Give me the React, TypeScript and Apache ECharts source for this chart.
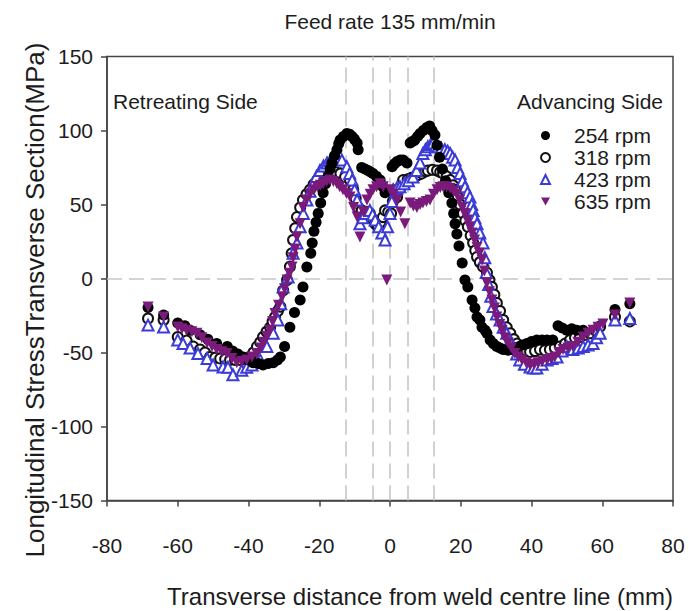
import React, { useEffect, useRef } from "react";
import * as echarts from "echarts";

const seriesNames = ["254 rpm", "318 rpm", "423 rpm", "635 rpm"];
const xTicks = { min: -80, max: 80, interval: 20 };
const yTicks = { min: -150, max: 150, interval: 50 };
const refLinesX = [-12.5, -5, 0, 5, 12.5];
const refLineY = 0;

const x254 = [-68.4, -64, -60, -58, -56.5, -53.7, -51.5, -49, -46, -44.5, -43, -41.5, -40, -38.7, -37.2, -35.9, -34.4, -33, -31.8, -31, -29.8, -28.3, -27, -25.4, -24.6, -23.5, -22.4, -22, -21.5, -20.9, -20.3, -19.6, -18.9, -18.2, -17.5, -16.9, -16.4, -15.7, -15, -14.5, -14.1, -13.2, -12.2, -11.4, -10.7, -10, -9.3, -9, -8, -7.1, -6.2, -5.5, -4.8, -3.8, -2.8, -2, -1.4, 0.6, 1.3, 2, 2.9, 3.7, 4.8, 5.7, 6.3, 7, 7.8, 8.5, 9.4, 10.4, 11.2, 11.9, 12.7, 13.3, 14, 14.8, 15.7, 16.6, 17.5, 18, 18.4, 18.9, 19.5, 20.4, 21.2, 22, 23.2, 24, 24.6, 25.4, 26, 26.9, 27.4, 28.3, 29.2, 30.2, 31.1, 32, 33.4, 34.8, 36, 37.5, 38.7, 40, 41.5, 43, 44.4, 46, 47.5, 48.7, 50, 51.4, 52.8, 54.6, 63.6, 67.8];
const y254 = [-19.6, -24.6, -30, -32, -35, -38, -41, -44, -46, -49, -51, -53, -55, -57, -57.5, -58.5, -57.5, -57, -55, -53, -46, -33, -23, -14.5, -5.7, 7.8, 17, 24, 32, 38, 44, 51, 58, 64, 69, 74, 78, 83, 87, 91, 93.5, 96, 98, 97.5, 96, 94, 91.5, 87, 75, 74, 73, 72, 71, 69, 66.5, 62, 58, 75.5, 77.5, 79, 80, 80, 78, 91.5, 92.5, 93.5, 96, 98, 100, 102, 103, 100, 97, 90, 82, 74, 66, 58, 51, 44, 37, 30, 22, 10.5, -1, -5.7, -14.5, -20, -26, -28, -33, -35, -37, -41.5, -44, -46, -47, -48, -48.5, -48, -46.5, -45, -44, -42.5, -41.5, -41.5, -41.5, -41.5, -32, -33.5, -35, -34, -35, -35, -21, -17];

const x318 = [-68.4, -64, -60, -57.5, -55.6, -53.7, -52.3, -50.9, -49.4, -48, -46.6, -45.2, -43.8, -42.4, -41, -39.6, -38.6, -37.6, -36.7, -35.9, -34.9, -33.9, -33.2, -32.5, -31.7, -31, -30.2, -29.1, -28.3, -27.8, -27.4, -26.8, -26.3, -25.4, -24.6, -23.6, -22.6, -21.6, -20.6, -19.7, -18.9, -17.9, -17, -15.5, -14, -12.7, -11.3, -10.4, -9.7, -9, -8, -6.8, -5.7, -4.9, -4.2, -3.4, -2.7, -2, -1.4, -0.5, 0.3, 0.8, 2, 2.9, 3.7, 5, 6, 7, 8, 9, 10, 10.7, 12, 13.3, 14.2, 15, 16, 17, 17.8, 18.4, 19.2, 19.8, 20.6, 21.3, 22, 22.8, 23.5, 24.1, 24.6, 25.4, 26.3, 27.4, 28.1, 28.8, 29.5, 30.2, 31.1, 32, 33, 34, 35, 35.9, 36.8, 37.6, 38.6, 39.6, 41, 42.4, 43.8, 45.2, 46.6, 48, 49.5, 50.9, 52.3, 53.7, 55.1, 56.5, 58, 59.4, 63.6, 67.8];
const y318 = [-27, -28, -39.5, -42, -46, -48, -50, -53, -53.5, -54, -54.5, -55, -55, -55, -54.5, -53, -50, -46, -43, -39.5, -36, -33, -29, -26, -22, -19, -8, -1, 8, 17, 26, 34, 41.5, 48, 53, 57, 60, 63.5, 66.5, 69, 71, 72, 73, 72, 71, 68.6, 66.5, 60, 54, 48, 46, 45, 44, 40, 37, 35, 38, 41.5, 46, 45, 44, 52, 55, 61, 66.5, 67, 68, 68.6, 70, 71, 72.5, 73, 73.5, 73, 72, 71, 69, 66.5, 63, 60, 55, 50, 44, 39, 35, 29, 24, 19, 14.5, 11, 8, 4, -1, -5.7, -11, -16.6, -22, -28, -33, -37, -41, -44, -46, -48, -49, -49.6, -49, -48, -48.5, -48, -47, -46, -44, -41.5, -40, -39.5, -38, -37, -35, -32.4, -26, -29];

const x423 = [-68.4, -64, -60, -58.5, -56.5, -54.3, -51.7, -50, -47.2, -45.8, -44.4, -41.9, -40.5, -39, -36.7, -34.8, -33, -31.7, -30.9, -30.2, -28.8, -27.4, -26.3, -25.4, -24.5, -23.5, -22.6, -21.7, -20.8, -19.8, -18.8, -17.8, -16.9, -16.1, -14.8, -13.6, -12.2, -11.4, -10.7, -10, -9.3, -8.5, -7.7, -7, -5.7, -4.9, -4.2, -3.2, -2.3, -1.4, -0.7, 0, 0.5, 0.9, 1.9, 2.8, 4, 5.2, 6.5, 7.5, 8.5, 9.3, 10, 10.7, 11.5, 12.2, 13, 13.6, 14.5, 15.5, 16.3, 17, 17.7, 18.4, 19.1, 19.8, 20.5, 21.2, 21.9, 22.6, 23.1, 23.5, 24, 24.6, 25.4, 26.3, 26.8, 27.2, 27.9, 28.5, 29.1, 30.1, 31.1, 32, 33, 33.9, 34.8, 35.8, 36.7, 38, 39.6, 40.5, 41.5, 43, 44.4, 45.8, 47.2, 48.6, 50, 51.7, 53.2, 54.6, 56, 57.4, 58.4, 59.4, 63.6, 67.8];
const y423 = [-31.5, -32.8, -41.5, -44, -47, -50.7, -54, -58.5, -59.8, -60, -65, -62, -60, -58.5, -55, -46, -37, -28, -17, -5.7, 1, 17, 24, 35, 44, 53, 59, 64, 69, 73, 76, 78, 79.5, 80, 80.5, 80, 75.5, 71, 66.5, 60, 53, 37, 41, 44, 46, 43, 39.5, 35, 30.7, 26, 35, 44, 52, 60, 61, 62, 64, 66, 68.6, 73, 78, 84.5, 87, 89, 90.5, 91.5, 90, 89, 88, 87, 86, 84.5, 82, 80, 75, 71, 66, 62, 58, 55, 50, 46, 41, 37, 30.7, 24, 14, 4, -4, -12, -19, -24, -28, -33, -37, -42, -46, -51, -55, -58, -59.8, -60.5, -60.5, -58, -55, -54, -53, -49, -46, -48, -47, -46, -45, -44, -40, -37, -28, -27];

const x635 = [-68.4, -64, -60, -58.8, -57.5, -56, -54.6, -53.2, -51.7, -50.3, -49, -47.5, -46.1, -44.7, -43.3, -41.9, -40.5, -39, -37.6, -36.6, -35.7, -34.8, -33.9, -33.2, -32.5, -31.5, -30.5, -29.8, -29.1, -28.4, -27.7, -27.4, -26.8, -26.3, -25.4, -24.6, -23.6, -22.6, -21.6, -20.6, -19.7, -18.9, -17.9, -17, -16, -15, -14.2, -13.3, -12.3, -11.3, -10.3, -9.3, -8.5, -7.5, -6.5, -5.6, -4.8, -3.8, -2.8, -1.9, -0.9, 0, 1, 2, 3, 4.2, 5.7, 6.6, 7.6, 8.5, 9.3, 10.3, 11.3, 12.3, 13.3, 14.2, 15, 16, 17, 18, 18.9, 19.7, 20.4, 21.1, 21.8, 22.5, 23.2, 23.9, 24.6, 25.3, 26, 26.7, 27.4, 28.1, 28.8, 29.5, 30.2, 31, 31.7, 32.5, 33.4, 34.3, 35.3, 36.3, 37.3, 38.5, 39.6, 40.7, 41.8, 43, 44.4, 45.5, 46.6, 47.8, 48.9, 50.3, 51.7, 53.1, 54.6, 56, 57.4, 58.8, 60.2, 63.6, 67.8];
const y635 = [-19.3, -26, -32.8, -34, -35, -36, -37, -40, -43.6, -46, -48, -49.5, -50.7, -54, -57, -56, -55, -53, -50.7, -47, -43, -39, -35, -29, -23.6, -18, -12.5, -7, -1, 3.5, 7.8, 14, 20, 28, 37, 48, 53, 57, 60, 62, 63, 64, 65.5, 66.5, 65.5, 64, 62, 60, 57.5, 55, 48, 41.5, 28, 45, 53, 57, 60, 62, 64, 62, -1, 60, 57, 53, 45, 37, 51, 49, 48, 50, 51, 52, 53, 57, 60, 61.5, 62, 62, 61, 59, 57, 53, 48, 44, 39.5, 35, 30.7, 26, 21, 17, 12.5, 5, -3, -9, -14.5, -20, -26, -31, -35, -40, -43.6, -47, -50.7, -53, -55, -57, -58.5, -58, -57, -56, -55, -54, -53, -50, -48, -47, -46, -43, -39.5, -37, -35, -33, -30.7, -24.6, -16.6];

const FONT = "'Liberation Sans', Arial, Helvetica, sans-serif";
const TEXT = "#1c1c1c";

function pairs(xs: number[], ys: number[]) {
  return xs.map((x, i) => [x, ys[i]]);
}

export default function App() {
  const ref = useRef<HTMLDivElement>(null);
  useEffect(() => {
    if (!ref.current) return;
    const chart = echarts.init(ref.current, undefined, { renderer: "svg" });
    const axisCommon = {
      type: "value" as const,
      axisLine: { show: true, onZero: false, lineStyle: { color: "#444", width: 1.5 } },
      axisTick: { show: true, inside: false, length: 6, lineStyle: { color: "#444", width: 1.5 } },
      splitLine: { show: false },
    };
    const refLines = [
      ...refLinesX.map((v) => ({ xAxis: v })),
      { yAxis: refLineY },
    ];
    chart.setOption({
      animation: false,
      backgroundColor: "#fff",
      grid: {
        left: 107,
        right: 16,
        top: 56.5,
        bottom: 110.5,
        show: true,
        borderColor: "#444",
        borderWidth: 1.5,
      },
      xAxis: {
        ...axisCommon,
        min: xTicks.min,
        max: xTicks.max,
        interval: xTicks.interval,
        axisLabel: { fontSize: 21, color: TEXT, margin: 34, fontFamily: FONT },
      },
      yAxis: {
        ...axisCommon,
        min: yTicks.min,
        max: yTicks.max,
        interval: yTicks.interval,
        axisLabel: { fontSize: 21, color: TEXT, margin: 14, fontFamily: FONT },
      },
      legend: {
        orient: "vertical",
        left: 540,
        top: 125,
        padding: 0,
        itemWidth: 9,
        itemHeight: 9,
        itemGap: 1,
        data: [
          { name: seriesNames[0] },
          { name: seriesNames[1] },
          { name: seriesNames[2] },
          { name: seriesNames[3], icon: "path://M0,0L10,0L5,9Z" },
        ],
        textStyle: { fontSize: 21, color: TEXT, fontFamily: FONT, lineHeight: 20, padding: [0, 0, 0, 19] },
      },
      graphic: [
        {
          type: "text",
          x: 390,
          y: 21,
          style: { text: "Feed rate 135 mm/min", fontSize: 21, fontFamily: FONT, fill: TEXT, align: "center", verticalAlign: "middle" },
        },
        {
          type: "text",
          x: 113,
          y: 101,
          style: { text: "Retreating Side", fontSize: 21, fontFamily: FONT, fill: TEXT, align: "left", verticalAlign: "middle" },
        },
        {
          type: "text",
          x: 663,
          y: 101,
          style: { text: "Advancing Side", fontSize: 21, fontFamily: FONT, fill: TEXT, align: "right", verticalAlign: "middle" },
        },
        {
          type: "text",
          x: 35,
          y: 300,
          rotation: Math.PI / 2,
          style: { text: "Longitudinal StressTransverse Section(MPa)", fontSize: 26, fontFamily: FONT, fill: TEXT, align: "center", verticalAlign: "middle" },
        },
        {
          type: "text",
          x: 420,
          y: 596,
          style: { text: "Transverse distance from weld centre line (mm)", fontSize: 24, fontFamily: FONT, fill: TEXT, align: "center", verticalAlign: "middle" },
        },
      ],
      series: [
        {
          name: "ref",
          type: "scatter",
          data: [],
          silent: true,
          markLine: {
            silent: true,
            z: 1,
            symbol: ["none", "none"],
            label: { show: false },
            lineStyle: { type: [15, 7], color: "#c6c6c6", width: 1.6 },
            emphasis: { disabled: true },
            data: refLines,
          },
        },
        {
          name: "318 rpm",
          type: "scatter",
          z: 2,
          symbol: "emptyCircle",
          symbolSize: 10,
          itemStyle: { color: "#111", borderWidth: 1.3, opacity: 1 },
          data: pairs(x318, y318),
        },
        {
          name: "423 rpm",
          type: "scatter",
          z: 3,
          symbol: "emptyTriangle",
          symbolSize: 11,
          itemStyle: { color: "#3b3bd6", borderWidth: 1.5, opacity: 1 },
          data: pairs(x423, y423),
        },
        {
          name: "254 rpm",
          type: "scatter",
          z: 4,
          symbol: "circle",
          symbolSize: 11,
          itemStyle: { color: "#000", opacity: 1 },
          data: pairs(x254, y254),
        },
        {
          name: "635 rpm",
          type: "scatter",
          z: 5,
          symbol: "triangle",
          symbolRotate: 180,
          symbolSize: 11,
          itemStyle: { color: "#7a1a7a", opacity: 1 },
          data: pairs(x635, y635),
        },
      ],
    });
    return () => chart.dispose();
  }, []);
  return (
    <div
      ref={ref}
      style={{ position: "absolute", left: 0, top: 0, width: 689, height: 611 }}
    />
  );
}
